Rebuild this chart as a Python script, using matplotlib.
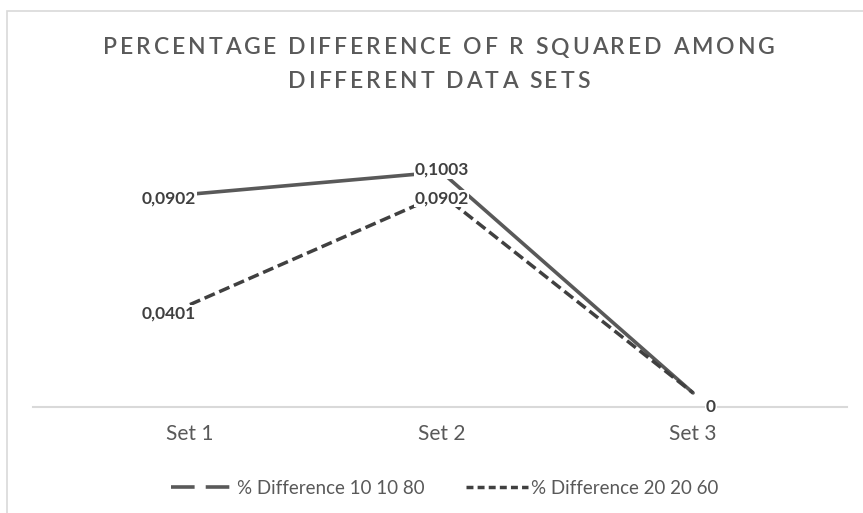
import matplotlib
matplotlib.use("Agg")
import matplotlib.pyplot as plt
from matplotlib.lines import Line2D
from matplotlib.patches import Rectangle
from matplotlib.font_manager import FontProperties

categories = ["Set 1", "Set 2", "Set 3"]
diff_10_10_80 = [0.0902, 0.1003, 0.0]
diff_20_20_60 = [0.0401, 0.0902, 0.0]
labels_10_10_80 = ["0,0902", "0,1003", "0"]
labels_20_20_60 = ["0,0401", "0,0902", ""]
title_lines = ["PERCENTAGE DIFFERENCE OF R SQUARED AMONG", "DIFFERENT DATA SETS"]
legend_labels = ["% Difference 10 10 80", "% Difference 20 20 60"]

grey_text = "#595959"
solid_col = "#595959"
dash_col = "#404040"

plt.rcParams["font.family"] = ["Lato", "DejaVu Sans"]
plt.rcParams["lines.scale_dashes"] = False

PX = 72 / 100  # points per pixel at dpi 100

fig = plt.figure(figsize=(8.63, 5.13), dpi=100)
fig.patches.append(Rectangle((7 / 863, -0.1), 1.2, 1 - 11 / 513 + 0.1, transform=fig.transFigure,
                             fill=False, edgecolor="#d9d9d9", linewidth=1.2))


def spaced_text(fig, cx, cy, s, spacing, **kw):
    # draw text char by char with extra letter spacing (pixels), centred at cx, cy (pixels from top-left)
    renderer = fig.canvas.get_renderer()
    fp = FontProperties(family=plt.rcParams["font.family"], size=kw.get("fontsize", 12),
                        weight=kw.get("fontweight", "normal"))
    full = renderer.get_text_width_height_descent(s, fp, ismath=False)[0]
    total = full + spacing * (len(s) - 1)
    x0 = cx - total / 2
    for i, ch in enumerate(s):
        pre = renderer.get_text_width_height_descent(s[:i], fp, ismath=False)[0] if i else 0
        fig.text((x0 + pre + spacing * i) / 863, 1 - cy / 513, ch, ha="left", va="center",
                 fontproperties=fp, color=kw.get("color", "k"))


ax = fig.add_axes([33 / 863, 1 - 407 / 513, 814 / 863, (407 - 128.6) / 513])
x = list(range(len(categories)))

ax.plot(x, diff_10_10_80, color=solid_col, linewidth=2.6, solid_capstyle="round", zorder=2)
ax.plot(x, diff_20_20_60, color=dash_col, linewidth=2.5, dashes=(8, 3.5), zorder=2)

ax.set_xlim(-0.624, 2.612)
ax.set_ylim(-0.0064, 0.12)
ax.set_xticks(x)
ax.set_xticklabels(categories, fontsize=15, color=grey_text)
ax.set_yticks([])
ax.tick_params(axis="x", length=0, pad=12)
for s in ["top", "right", "left"]:
    ax.spines[s].set_visible(False)
ax.spines["bottom"].set_color("#d9d9d9")
ax.spines["bottom"].set_linewidth(1.5)

bbox = dict(facecolor="white", edgecolor="none", pad=0.5)
# data labels: offsets in px and alignment
offs_solid = [(6, -4, "right"), (0, 2, "center"), (18, -14, "center")]
offs_dash = [(6, -9, "right"), (0, -4, "center"), (0, 0, "center")]
for vals, texts, offs in [(diff_10_10_80, labels_10_10_80, offs_solid),
                          (diff_20_20_60, labels_20_20_60, offs_dash)]:
    for xi, v, t, (dx, dy, ha) in zip(x, vals, texts, offs):
        if not t:
            continue
        ax.annotate(t, (xi, v), xytext=(dx * PX, dy * PX), textcoords="offset points",
                    ha=ha, va="center", fontsize=12.5, fontweight="bold", color="#404040",
                    bbox=bbox, zorder=5, annotation_clip=False)

spaced_text(fig, 439, 48, title_lines[0], 2.9, fontsize=16.5, fontweight="semibold", color=grey_text)
spaced_text(fig, 439, 82, title_lines[1], 2.9, fontsize=16.5, fontweight="semibold", color=grey_text)

handles = [Line2D([], [], color=solid_col, linewidth=2.6, dashes=(17, 8)),
           Line2D([], [], color=dash_col, linewidth=2.5, dashes=(5, 3))]
fig.legend(handles, legend_labels,
           loc="center", bbox_to_anchor=(445 / 863, 1 - 488 / 513), ncol=2,
           frameon=False, fontsize=13.5, handlelength=3.3, handletextpad=0.2,
           columnspacing=2.2, labelcolor=grey_text)

fig.savefig("out.png", dpi=100)
